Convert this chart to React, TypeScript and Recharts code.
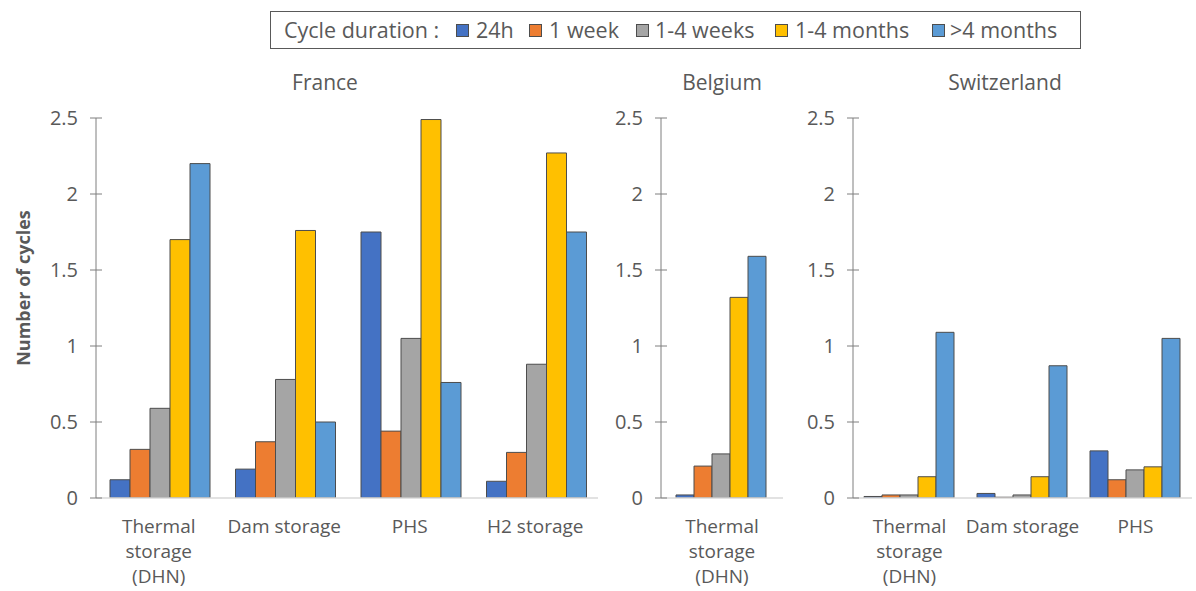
import React from "react";
import { BarChart, Bar, XAxis, YAxis } from "recharts";

const seriesNames = ["24h", "1 week", "1-4 weeks", "1-4 months", ">4 months"];
const seriesKeys = ["h24", "week1", "weeks14", "months14", "months4p"];
const seriesColors = ["#4472C4", "#ED7D31", "#A5A5A5", "#FFC000", "#5B9BD5"];

const yTicks = [0, 0.5, 1, 1.5, 2, 2.5];

const franceCategories = ["Thermal\nstorage\n(DHN)", "Dam storage", "PHS", "H2 storage"];
const france24h = [0.12, 0.19, 1.75, 0.11];
const franceWeek = [0.32, 0.37, 0.44, 0.3];
const franceWeeks14 = [0.59, 0.78, 1.05, 0.88];
const franceMonths14 = [1.7, 1.76, 2.49, 2.27];
const franceMonths4p = [2.2, 0.5, 0.76, 1.75];

const belgiumCategories = ["Thermal\nstorage\n(DHN)"];
const belgium24h = [0.02];
const belgiumWeek = [0.21];
const belgiumWeeks14 = [0.29];
const belgiumMonths14 = [1.32];
const belgiumMonths4p = [1.59];

const swissCategories = ["Thermal\nstorage\n(DHN)", "Dam storage", "PHS"];
const swiss24h = [0.01, 0.03, 0.31];
const swissWeek = [0.02, 0.005, 0.12];
const swissWeeks14 = [0.02, 0.02, 0.185];
const swissMonths14 = [0.14, 0.14, 0.205];
const swissMonths4p = [1.09, 0.87, 1.05];

const countryTitles = ["France", "Belgium", "Switzerland"];

function buildRows(cats: string[], series: number[][]) {
  return cats.map((c, i) => {
    const row: Record<string, any> = { category: c };
    seriesKeys.forEach((k, s) => {
      row[k] = series[s][i];
    });
    return row;
  });
}

const franceData = buildRows(franceCategories, [france24h, franceWeek, franceWeeks14, franceMonths14, franceMonths4p]);
const belgiumData = buildRows(belgiumCategories, [belgium24h, belgiumWeek, belgiumWeeks14, belgiumMonths14, belgiumMonths4p]);
const swissData = buildRows(swissCategories, [swiss24h, swissWeek, swissWeeks14, swissMonths14, swissMonths4p]);

const FONT = "'Open Sans', 'Noto Sans', sans-serif";
const TEXT = "#595959";

const YTick = (props: any) => {
  const { x, y, payload } = props;
  return (
    <g>
      <line x1={x - 6} x2={x + 6} y1={y} y2={y} stroke="#7f7f7f" strokeWidth={1} />
      <text x={x - 18} y={y} dy={7} textAnchor="end" fill={TEXT} fontSize={20} fontFamily={FONT}>
        {payload.value}
      </text>
    </g>
  );
};

const XTick = (props: any) => {
  const { x, y, payload } = props;
  const lines = String(payload.value).split("\n");
  return (
    <text x={x} y={y} textAnchor="middle" fill={TEXT} fontSize={19} fontFamily={FONT}>
      {lines.map((l, i) => (
        <tspan key={i} x={x} dy={i === 0 ? 35 : 25}>
          {l}
        </tspan>
      ))}
    </text>
  );
};

function Panel(props: {
  data: any[];
  left: number;
  width: number;
  yWidth: number;
  right: number;
  gap: number;
}) {
  const { data, left, width, yWidth, right, gap } = props;
  return (
    <div style={{ position: "absolute", left, top: 0 }}>
      <BarChart
        width={width}
        height={591}
        data={data}
        margin={{ top: 118, right, bottom: 0, left: 0 }}
        barGap={0}
        barCategoryGap={gap}
      >
        <XAxis
          dataKey="category"
          height={93}
          tickLine={false}
          tickSize={0}
          tickMargin={0}
          axisLine={{ stroke: "#d9d9d9", strokeWidth: 1.5 }}
          tick={<XTick />}
          interval={0}
        />
        <YAxis
          width={yWidth}
          domain={[0, 2.5]}
          ticks={yTicks}
          tickLine={false}
          tickSize={0}
          tickMargin={0}
          axisLine={{ stroke: "#7f7f7f", strokeWidth: 1 }}
          tick={<YTick />}
          interval={0}
          allowDataOverflow
        />
        {seriesKeys.map((k, i) => (
          <Bar
            key={k}
            dataKey={k}
            name={seriesNames[i]}
            fill={seriesColors[i]}
            stroke="#4d4d4d"
            strokeWidth={1}
            isAnimationActive={false}
          />
        ))}
      </BarChart>
    </div>
  );
}

const legendSquareX = [456, 529, 636, 775, 932];
const legendTextX = [476, 549, 655, 795, 950];
const titleCenters = [325, 722, 1005];

export default function App() {
  return (
    <div
      style={{
        position: "absolute",
        left: 0,
        top: 0,
        width: 1196,
        height: 591,
        background: "#fff",
        fontFamily: FONT,
        overflow: "hidden",
      }}
    >
      <Panel data={franceData} left={0} width={600} yWidth={96} right={2} gap={14} />
      <Panel data={belgiumData} left={600} width={190} yWidth={61} right={7} gap={15} />
      <Panel data={swissData} left={790} width={406} yWidth={63} right={4} gap={11} />

      {/* legend */}
      <div
        style={{
          position: "absolute",
          left: 270,
          top: 11,
          width: 811,
          height: 38,
          border: "1.5px solid #595959",
          boxSizing: "border-box",
        }}
      />
      <div
        style={{
          position: "absolute",
          left: 284,
          top: 15,
          fontSize: 21.5,
          color: TEXT,
          whiteSpace: "nowrap",
          lineHeight: "30px",
        }}
      >
        Cycle duration :
      </div>
      {seriesNames.map((n, i) => (
        <React.Fragment key={n}>
          <div
            style={{
              position: "absolute",
              left: legendSquareX[i],
              top: 24,
              width: 13,
              height: 13,
              background: seriesColors[i],
              border: "1px solid #4d4d4d",
              boxSizing: "border-box",
            }}
          />
          <div
            style={{
              position: "absolute",
              left: legendTextX[i],
              top: 15,
              fontSize: 21.5,
              color: TEXT,
              whiteSpace: "nowrap",
              lineHeight: "30px",
            }}
          >
            {n}
          </div>
        </React.Fragment>
      ))}

      {/* panel titles */}
      {countryTitles.map((t, i) => (
        <div
          key={t}
          style={{
            position: "absolute",
            left: titleCenters[i] - 100,
            width: 200,
            top: 68,
            textAlign: "center",
            fontSize: 21,
            color: TEXT,
            lineHeight: "28px",
          }}
        >
          {t}
        </div>
      ))}

      {/* y axis title */}
      <div
        style={{
          position: "absolute",
          left: 23 - 100,
          top: 288 - 14,
          width: 200,
          height: 28,
          lineHeight: "28px",
          textAlign: "center",
          fontSize: 18,
          fontWeight: 700,
          color: TEXT,
          transform: "rotate(-90deg)",
        }}
      >
        Number of cycles
      </div>
    </div>
  );
}
